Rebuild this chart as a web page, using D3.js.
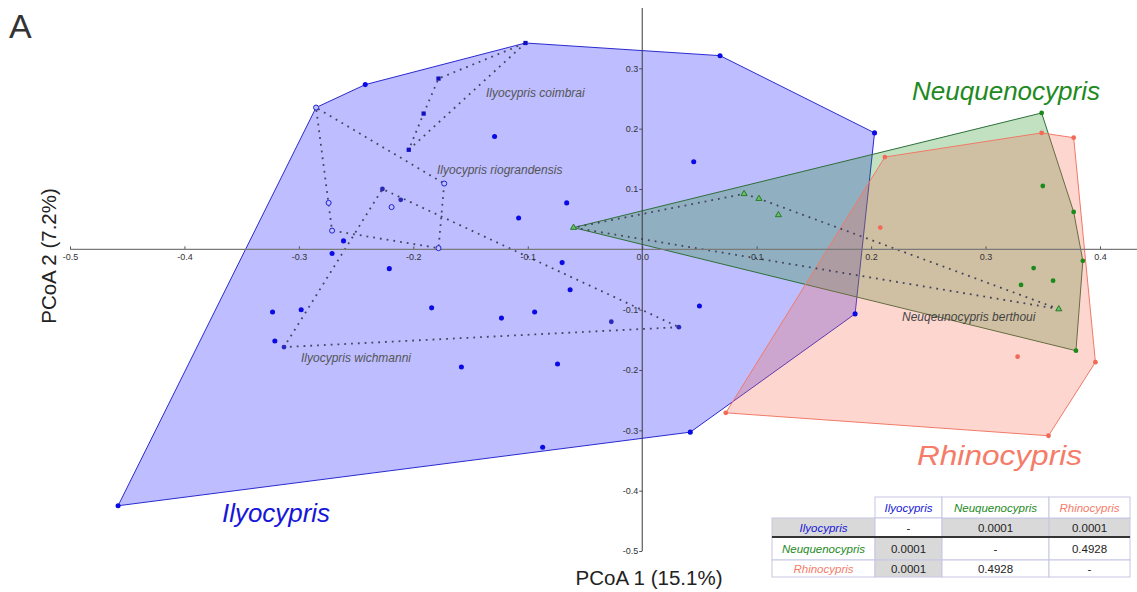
<!DOCTYPE html>
<html>
<head>
<meta charset="utf-8">
<script src="https://cdn.jsdelivr.net/npm/d3@7"></script>
<style>
  body { margin: 0; background: #fff; }
  svg { display: block; font-family: "Liberation Sans", Arial, sans-serif; }
</style>
</head>
<body>
<svg id="chart" width="1137" height="592"></svg>
<script>
// PCoA scores, [PCoA 1, PCoA 2]
var coimbrai = [[-0.102, 0.342], [-0.178, 0.283], [-0.191, 0.225], [-0.204, 0.165]];
var riograndensis = [[-0.285, 0.235], [-0.173, 0.109], [-0.178, 0.002], [-0.271, 0.031], [-0.274, 0.077], [-0.219, 0.070]];
var wichmanni = [[-0.227, 0.100], [-0.211, 0.082], [0.032, -0.129], [-0.313, -0.162], [-0.027, -0.120]];
var ilyocyprisOther = [[-0.458, -0.425], [-0.242, 0.273], [0.068, 0.321], [0.203, 0.193], [0.186, -0.107],
  [0.042, -0.303], [-0.087, -0.328], [-0.129, 0.187], [-0.271, -0.007], [-0.221, -0.032], [-0.323, -0.104],
  [-0.298, -0.100], [-0.261, 0.014], [-0.184, -0.097], [-0.321, -0.152], [0.045, 0.145], [-0.066, 0.077],
  [-0.108, 0.052], [-0.070, -0.022], [-0.063, -0.067], [-0.123, -0.114], [-0.094, -0.104], [0.050, -0.094],
  [-0.158, -0.195], [-0.074, -0.190]];
var berthoui = [[-0.060, 0.036], [0.089, 0.092], [0.102, 0.084], [0.119, 0.057], [0.364, -0.099]];
var neuquenOther = [[0.349, 0.226], [0.377, 0.062], [0.385, -0.019], [0.379, -0.168], [0.350, 0.105],
  [0.342, -0.031], [0.331, -0.059], [0.359, -0.052]];
var rhinocypris = [[0.212, 0.153], [0.349, 0.193], [0.377, 0.185], [0.396, -0.187], [0.355, -0.309],
  [0.073, -0.271], [0.208, 0.036], [0.328, -0.178]];

var xTicks = [-0.5, -0.4, -0.3, -0.2, -0.1, 0.0, 0.1, 0.2, 0.3, 0.4];
var yTicks = [-0.5, -0.4, -0.3, -0.2, -0.1, 0.1, 0.2, 0.3];

// PERMANOVA table
var tableGenera = ["Ilyocypris", "Neuquenocypris", "Rhinocypris"];
var pValues = [["-", "0.0001", "0.0001"], ["0.0001", "-", "0.4928"], ["0.0001", "0.4928", "-"]];

var blue = "#1616d8", green = "#1e8a1e", salmon = "#f47c68";

var svg = d3.select("#chart");
var x = d3.scaleLinear().domain([-0.5, 0.4]).range([70, 1100]);
var y = d3.scaleLinear().domain([-0.5, 0.4]).range([551, 8]);
var line = d3.line().x(function(d) { return x(d[0]); }).y(function(d) { return y(d[1]); }).curve(d3.curveLinearClosed);

// genus hulls
var genera = [
  { pts: ilyocyprisOther.concat(coimbrai, riograndensis, wichmanni), fill: "#0000ff", op: 0.26, stroke: "#2a2ad0" },
  { pts: neuquenOther.concat(berthoui), fill: "#118a11", op: 0.26, stroke: "#2f6f3a" },
  { pts: rhinocypris, fill: "#f86a56", op: 0.28, stroke: "#f07a68" }
];
svg.selectAll("path.hull")
  .data(genera)
  .enter()
  .append("path")
  .attr("class", "hull")
  .attr("d", function(g) { return line(d3.polygonHull(g.pts)); })
  .attr("fill", function(g) { return g.fill; })
  .attr("fill-opacity", function(g) { return g.op; })
  .attr("stroke", function(g) { return g.stroke; })
  .attr("stroke-width", 1);

// species hulls, dotted
svg.selectAll("path.species")
  .data([coimbrai, riograndensis, wichmanni, berthoui])
  .enter()
  .append("path")
  .attr("class", "species")
  .attr("d", function(p) { return line(d3.polygonHull(p)); })
  .attr("fill", "none")
  .attr("stroke", "#44445e")
  .attr("stroke-width", 1.8)
  .attr("stroke-dasharray", "1.8,5");

// axes
var xAxis = svg.append("g")
  .attr("transform", "translate(0," + y(0) + ")")
  .call(d3.axisBottom(x).tickValues(xTicks).tickSize(-3).tickPadding(4)
    .tickFormat(function(d) { return d.toFixed(1); }));
xAxis.select(".domain").remove();
xAxis.append("line").attr("x1", x(-0.5)).attr("x2", 1137).attr("stroke", "#7a7a7a").attr("stroke-width", 1.3);

var yAxis = svg.append("g")
  .attr("transform", "translate(" + x(0) + ",0)")
  .call(d3.axisLeft(y).tickValues(yTicks).tickSize(3).tickPadding(1)
    .tickFormat(function(d) { return d.toFixed(1); }));
yAxis.select(".domain").remove();
yAxis.append("line").attr("y1", y(0.4)).attr("y2", y(-0.5)).attr("stroke", "#3a3a3a").attr("stroke-width", 1);

svg.selectAll(".tick text").attr("font-size", 9).attr("fill", "#333").attr("font-family", "Liberation Sans, Arial, sans-serif");
svg.selectAll(".tick line").attr("stroke", "#555");

// points
function drawPoints(pts, type, size, fill, stroke) {
  svg.append("g").selectAll("path")
    .data(pts)
    .enter()
    .append("path")
    .attr("transform", function(d) { return "translate(" + x(d[0]) + "," + y(d[1]) + ")"; })
    .attr("d", d3.symbol().type(type).size(size))
    .attr("fill", fill)
    .attr("stroke", stroke || "none")
    .attr("stroke-width", 1);
}
drawPoints(ilyocyprisOther, d3.symbolCircle, 20, "#0a0ae6");
drawPoints(coimbrai, d3.symbolSquare, 18, "#1010c0");
drawPoints(riograndensis, d3.symbolCircle, 20, "#c0c0ff", "#2020d0");
drawPoints(wichmanni, d3.symbolCircle, 18, "#2a2ab8");
drawPoints(neuquenOther, d3.symbolCircle, 18, "#1a8a1a");
drawPoints(berthoui, d3.symbolTriangle, 16, "#6ac06a", "#2a7a2a");
drawPoints(rhinocypris, d3.symbolCircle, 18, "#f26a55");

// labels
function label(text, px, py, size, color, italic, len) {
  var t = svg.append("text").attr("x", px).attr("y", py).attr("font-size", size)
    .attr("fill", color).attr("font-style", italic ? "italic" : "normal").text(text);
  if (len) t.attr("textLength", len).attr("lengthAdjust", "spacingAndGlyphs");
}
label("A", 9, 38, 34, "#333");
label("Neuquenocypris", 912, 100, 25.5, green, true, 188);
label("Rhinocypris", 917, 465, 28, salmon, true, 165);
label("Ilyocypris", 222, 522, 25.5, blue, true, 108);
label("Ilyocypris coimbrai", 486, 97, 12, "#555", true);
label("Ilyocypris riograndensis", 437, 174, 12, "#555", true);
label("Ilyocypris wichmanni", 301, 362, 12, "#555", true);
label("Neuqeunocypris berthoui", 902, 321, 12, "#444", true);

svg.append("text").attr("x", 649).attr("y", 585).attr("text-anchor", "middle")
  .attr("font-size", 20.5).attr("fill", "#222").text("PCoA 1 (15.1%)");
svg.append("text").attr("transform", "translate(56,256) rotate(-90)").attr("text-anchor", "middle")
  .attr("font-size", 20.5).attr("fill", "#222").text("PCoA 2 (7.2%)");

// table
var colX = [772, 875, 942, 1049, 1130];
var rowY = [497, 518, 537, 560, 577];
var genusColor = [blue, green, salmon];
var table = svg.append("g");
function cell(c, r, bg) {
  table.append("rect").attr("x", colX[c]).attr("y", rowY[r])
    .attr("width", colX[c + 1] - colX[c]).attr("height", rowY[r + 1] - rowY[r])
    .attr("fill", bg).attr("stroke", "#c6c6e4").attr("stroke-width", 1);
}
function cellText(c, r, text, color, italic) {
  table.append("text").attr("x", (colX[c] + colX[c + 1]) / 2).attr("y", (rowY[r] + rowY[r + 1]) / 2 + 4)
    .attr("text-anchor", "middle").attr("font-size", 11.5).attr("fill", color)
    .attr("font-style", italic ? "italic" : "normal").text(text);
}
tableGenera.forEach(function(g, i) {
  cell(i + 1, 0, "#fff");
  cellText(i + 1, 0, g, genusColor[i], true);
  cell(0, i + 1, i === 0 ? "#d9d9d9" : "#fff");
  cellText(0, i + 1, g, genusColor[i], true);
  pValues[i].forEach(function(v, j) {
    var shaded = (i === 0 || j === 0) && i !== j;
    cell(j + 1, i + 1, shaded ? "#d9d9d9" : "#fff");
    cellText(j + 1, i + 1, v, "#222", false);
  });
});
table.append("line").attr("x1", colX[0]).attr("x2", colX[4]).attr("y1", rowY[2]).attr("y2", rowY[2])
  .attr("stroke", "#333").attr("stroke-width", 2);
</script>
</body>
</html>
